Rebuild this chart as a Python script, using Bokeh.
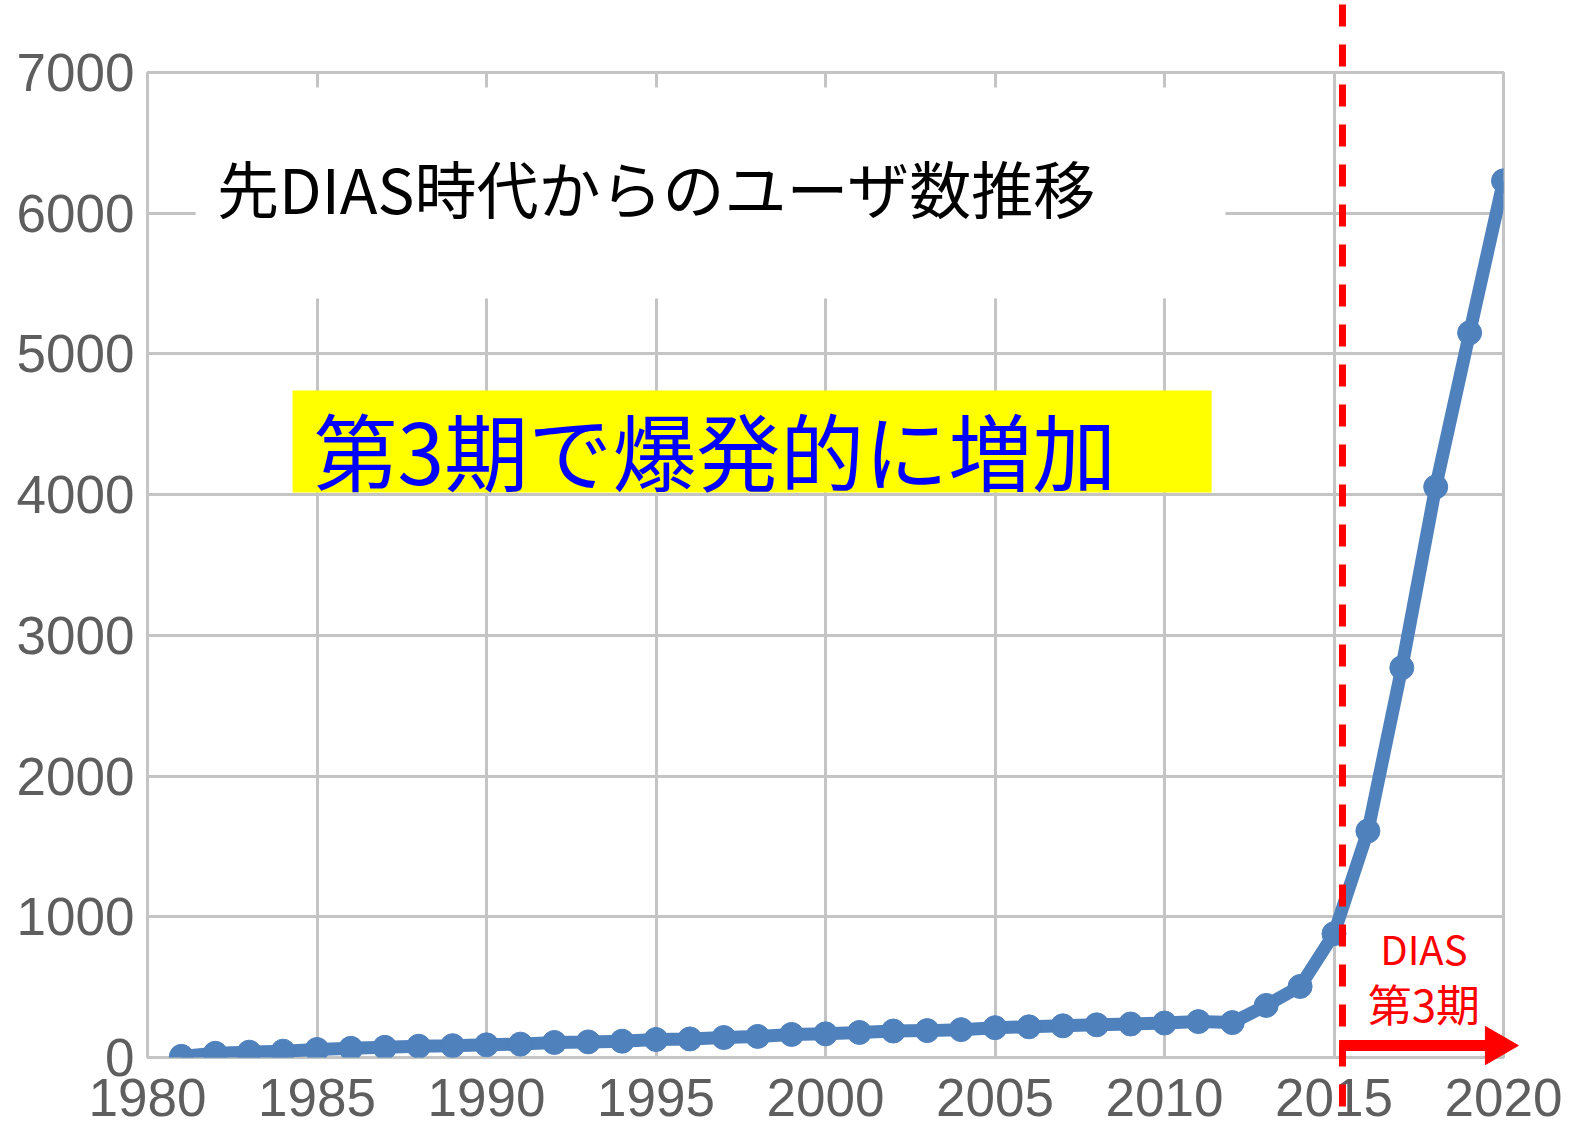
import math
from bokeh.plotting import figure
from bokeh.models import Range1d, FixedTicker, BoxAnnotation, Label
from bokeh.embed import file_html
from bokeh.resources import INLINE

# ---- data ----
years = list(range(1981, 2021))
users = [8, 30, 38, 45, 57, 65, 72, 80, 84, 90,
         95, 107, 111, 116, 128, 132, 142, 150, 164, 168,
         178, 188, 191, 198, 212, 218, 225, 232, 238, 245,
         255, 248, 370, 505, 880, 1610, 2770, 4055, 5150, 6230]

x_ticks = [1980, 1985, 1990, 1995, 2000, 2005, 2010, 2015, 2020]
x_tick_labels = ["1980", "1985", "1990", "1995", "2000", "2005", "2010", "2015", "2020"]
y_ticks = [0, 1000, 2000, 3000, 4000, 5000, 6000, 7000]
y_tick_labels = ["0", "1000", "2000", "3000", "4000", "5000", "6000", "7000"]

title_text = "先DIAS時代からのユーザ数推移"
headline_text = "第3期で爆発的に増加"
phase_label_1 = "DIAS"
phase_label_2 = "第3期"
phase3_start = 2015.25

GRID = "#c4c4c4"
BLUE = "#4f81bd"
RED = "#ff0000"
TICK_FONT = "Liberation Sans"
JP_FONT = "Noto Sans CJK JP"

p = figure(width=1570, height=1128, output_backend="svg", toolbar_location=None,
           x_range=Range1d(1980, 2020), y_range=Range1d(0, 7000),
           min_border_left=147, min_border_right=67, min_border_top=72, min_border_bottom=71)

p.xaxis.ticker = FixedTicker(ticks=x_ticks)
p.yaxis.ticker = FixedTicker(ticks=y_ticks)
p.xgrid.ticker = FixedTicker(ticks=x_ticks)
p.ygrid.ticker = FixedTicker(ticks=y_ticks)
p.xaxis.major_label_overrides = dict(zip(x_ticks, x_tick_labels))
p.yaxis.major_label_overrides = dict(zip(y_ticks, y_tick_labels))

for ax in (p.xaxis, p.yaxis):
    ax.axis_line_color = None
    ax.major_tick_line_color = None
    ax.minor_tick_line_color = None
    ax.major_tick_in = 0
    ax.major_tick_out = 0
    ax.minor_tick_in = 0
    ax.minor_tick_out = 0
    ax.major_label_text_font = TICK_FONT
    ax.major_label_text_font_size = "53px"
    ax.major_label_text_color = "#5e5e5e"
p.xaxis.major_label_standoff = 21
p.yaxis.major_label_standoff = 13

p.grid.grid_line_color = GRID
p.grid.grid_line_width = 3
p.outline_line_color = GRID
p.outline_line_width = 3
p.background_fill_color = "white"
p.border_fill_color = "white"

# series
p.line(years, users, line_color=BLUE, line_width=13)
p.scatter(years, users, size=24, fill_color=BLUE, line_color=BLUE)

# boxes
p.add_layout(BoxAnnotation(left=1981.42, right=2011.8, bottom=5394, top=6894,
                           fill_color="white", fill_alpha=1.0, line_color=None))
p.add_layout(BoxAnnotation(left=1984.28, right=2011.39, bottom=4015, top=4740,
                           fill_color="#ffff00", fill_alpha=1.0, line_color=None))

# texts
p.add_layout(Label(x=1982.05, y=6185, text=title_text, text_font=JP_FONT,
                   text_font_size="62px", text_color="black", text_baseline="middle"))
p.add_layout(Label(x=1984.9, y=4330, text=headline_text, text_font=JP_FONT,
                   text_font_size="84px", text_color="#0000ff", text_baseline="middle"))
p.add_layout(Label(x=2017.65, y=780, text=phase_label_1, text_font=JP_FONT,
                   text_font_size="40px", text_color=RED, text_align="center",
                   text_baseline="middle"))
p.add_layout(Label(x=2017.65, y=385, text=phase_label_2, text_font=JP_FONT,
                   text_font_size="44px", text_color=RED, text_align="center",
                   text_baseline="middle"))

# arrow for the 3rd phase (shaft + head)
p.segment(x0=[phase3_start - 0.1], y0=[85], x1=[2019.6], y1=[85],
          line_color=RED, line_width=11, level="overlay")
p.scatter(x=[2019.79], y=[85], marker="triangle", size=38, angle=-math.pi / 2,
          fill_color=RED, line_color=RED, level="overlay")

# dashed marker of phase 3 start
p.segment(x0=[phase3_start], y0=[7484], x1=[phase3_start], y1=[-398],
          line_color=RED, line_width=7, line_dash="22 18", level="overlay")

open("out.html", "w").write(file_html(p, INLINE))
